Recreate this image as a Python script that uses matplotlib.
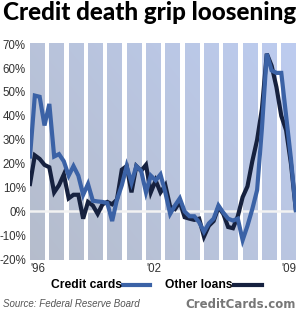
import numpy as np
import matplotlib
matplotlib.use("Agg")
import matplotlib.pyplot as plt
from matplotlib.lines import Line2D

# ---- data (net % of banks tightening standards, quarterly 1996Q1-2009Q4) ----
start_year = 1996
credit_cards = [23, 48.5, 48, 36, 45, 23, 24, 21, 15, 19, 15, 7, 11.5, 4.5, 4.2, 4,
                3.5, -4, 5, 11, 19, 12, 19, 17, 8, 15, 13, 15.5, 8, -1, 2.5, 5.5,
                0, -2, -2, -4.5, -8.5, -5, -3, 2.5, -0.5, -3, -3.8, -3, -12, -6,
                1, 9, 35, 66, 59, 58, 58, 40, 22, 0.5]
other_loans = [11.5, 23.5, 22, 19.5, 18.5, 8, 11, 15.5, 5.5, 7, 7, -3, 4, 2.5, -1, 3,
               4, 3, 5, 17.5, 19, 8, 19, 17, 19.5, 8, 13, 8, 11, 2, 1, 4,
               -2.4, -3, -3.5, -3, -10.5, -6, -4, 1.8, -1, -6.5, -7, -2, 6, 10.5,
               21, 30, 43, 66, 61, 52, 40, 34, 20, 1]
yticks = [-20, -10, 0, 10, 20, 30, 40, 50, 60, 70]
xtick_years = [1996, 2002, 2009]
xtick_labels = ["'96", "'02", "'09"]
title = "Credit death grip loosening"
source = "Source: Federal Reserve Board"
brand = "CreditCards.com"

cc_color = "#3b62a6"
ol_color = "#16213f"

W, H = 300, 311
fig = plt.figure(figsize=(W / 100, H / 100), dpi=100)
fig.patch.set_facecolor("white")

ax = fig.add_axes([30 / W, 1 - 260 / H, 266 / W, 217 / H])
x = start_year + 0.25 * np.arange(len(credit_cards))
xmax = start_year + 266 / 19.33
ymin, ymax = -20.3, 70.5

# gradient background
n = 200
u = np.linspace(0, 1, n)
U, V = np.meshgrid(u, u)
t = (U * 0.6 + V * 0.4)
c0 = np.array([0.71, 0.74, 0.80])
c1 = np.array([0.74, 0.80, 0.94])
img = c0[None, None, :] + (c1 - c0)[None, None, :] * t[..., None]
ax.imshow(img, extent=[start_year, xmax, ymin, ymax], origin="lower",
          aspect="auto", zorder=0, interpolation="bilinear")
band = 15 / 19.33
for yr in range(start_year, 2009):
    ax.axvspan(yr + band, yr + 1, color="white", lw=0, zorder=1)
ax.axhline(0, color="#f2f2f2", lw=1.8, zorder=2)

ax.plot(x, other_loans, color=ol_color, lw=3.0, zorder=3, solid_joinstyle="miter")
ax.plot(x, credit_cards, color=cc_color, lw=3.0, zorder=4, solid_joinstyle="miter")

ax.set_xlim(start_year, xmax)
ax.set_ylim(ymin, ymax)
for s in ax.spines.values():
    s.set_visible(False)
ax.set_yticks(yticks)
ax.set_yticklabels([f"{v}%" for v in yticks], fontfamily="Liberation Sans",
                   fontsize=8.3, color="#333333")
ax.set_xticks([yr + band / 2 for yr in xtick_years])
ax.set_xticklabels(xtick_labels, fontfamily="Liberation Sans", fontsize=8.3,
                   color="#333333")
ax.tick_params(length=0, pad=2)
ax.tick_params(axis="y", pad=3)

# title
tt = fig.text(3 / W, 1 - 13 / H, title, fontsize=15, fontweight="black",
              fontfamily="Lato", va="center", ha="left", color="black")
fig.canvas.draw()
bb = tt.get_window_extent()
tt.set_fontsize(15 * 293 / bb.width)

# legend
lg_y = 1 - 285 / H
fig.text(122 / W, lg_y, "Credit cards", fontsize=8.7, fontweight="bold",
         fontfamily="Liberation Sans", ha="right", va="center", color="black")
fig.add_artist(Line2D([123 / W, 150 / W], [lg_y, lg_y], color=cc_color, lw=3,
                      transform=fig.transFigure))
fig.text(233 / W, lg_y, "Other loans", fontsize=8.7, fontweight="bold",
         fontfamily="Liberation Sans", ha="right", va="center", color="black")
fig.add_artist(Line2D([234 / W, 262 / W], [lg_y, lg_y], color=ol_color, lw=3,
                      transform=fig.transFigure))

# footer
fig.text(3 / W, 1 - 304 / H, source, fontsize=7, fontstyle="italic",
         fontfamily="Liberation Sans", ha="left", va="center", color="#555555")
fig.text(296 / W, 1 - 304 / H, brand, fontsize=8.5, fontweight="bold",
         fontfamily="DejaVu Sans", ha="right", va="center", color="#777777")

fig.savefig("out.png", dpi=100, facecolor="white")
